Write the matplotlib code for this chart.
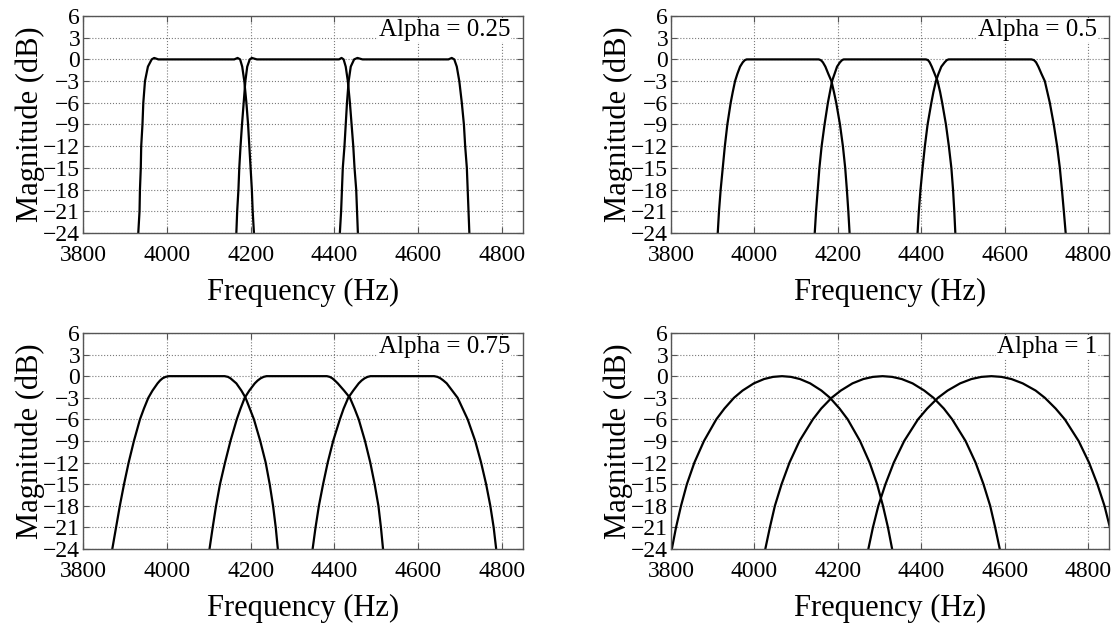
import numpy as np
import matplotlib
matplotlib.use('Agg')
import matplotlib.pyplot as plt

plt.rcParams['font.family'] = ['Liberation Serif', 'DejaVu Serif']

# ---- data (frequency in Hz at given dB levels) ----
x_ticks = [3800, 4000, 4200, 4400, 4600, 4800]
y_ticks = [6, 3, 0, -3, -6, -9, -12, -15, -18, -21, -24]
alphas = ['0.25', '0.5', '0.75', '1']

# alpha = 0.25
db_a025 = [-24, -21, -18, -15, -12, -9, -6, -3, -1, 0, 0.2, 0,
           0, 0.2, 0, -1, -3, -6, -9, -12, -15, -18, -21, -24]
f_a025_1 = [3932, 3935, 3936, 3938, 3939, 3942, 3944, 3948, 3955, 3964, 3970, 3980,
            4161, 4169, 4175, 4180, 4185, 4190, 4194, 4197, 4200, 4203, 4205, 4208]
f_a025_2 = [4166, 4168, 4171, 4173, 4176, 4179.5, 4183.5, 4187.5, 4192, 4198, 4203, 4215,
            4411, 4417, 4422, 4427, 4432, 4437, 4441, 4445, 4448, 4452, 4454, 4456]
f_a025_3 = [4413, 4416, 4418, 4420, 4424, 4427, 4430, 4434, 4439, 4447, 4455, 4467,
            4672, 4680, 4686, 4692, 4698, 4704, 4709, 4712, 4716, 4718, 4720, 4722]

# alpha = 0.5
db_a05 = [-24, -21, -18, -15, -12, -9, -6, -4.5, -3, -2, -1, -0.4, -0.1, 0,
          0, -0.1, -0.4, -1, -2, -3, -4.5, -6, -9, -12, -15, -18, -21, -24]
f_a05_1 = [3912, 3915, 3919, 3924, 3929, 3935, 3943, 3948, 3953.5, 3959, 3965.5, 3972, 3977, 3981.5,
           4154, 4159, 4164, 4170, 4177, 4184.5, 4190.5, 4196, 4205, 4212, 4217.5, 4221.5, 4225, 4228]
f_a05_2 = [4144.5, 4147.7, 4151.7, 4155.7, 4161, 4168, 4176, 4181, 4186, 4192, 4198, 4205, 4210, 4214,
           4411, 4416, 4420, 4425, 4432, 4439, 4445, 4450, 4459, 4466, 4472, 4476, 4479, 4481.5]
f_a05_3 = [4391, 4394, 4398, 4403, 4408.5, 4415, 4424, 4429, 4435, 4441, 4448, 4456, 4461, 4465.5,
           4664, 4670, 4675, 4680.5, 4688, 4696, 4702, 4708, 4717.5, 4725.5, 4732, 4737, 4741.6, 4746]

# alpha = 0.75
db_a075 = [-24, -21, -18, -15, -12, -9, -6, -4.5, -3, -2, -1, -0.6, -0.3, -0.1, 0,
           0, -0.1, -0.3, -0.6, -1, -2, -3, -4.5, -6, -9, -12, -15, -18, -21, -24]
f_a075_1 = [3870, 3879, 3888, 3898, 3909, 3921.6, 3936, 3945.5, 3956, 3966, 3978, 3984, 3990, 3997, 4005,
            4138, 4146, 4152, 4158, 4166, 4178, 4188, 4198, 4208, 4223, 4236, 4245.6, 4253.6, 4260, 4265]
f_a075_2 = [4102, 4109.6, 4117.6, 4127, 4139, 4152, 4167, 4176, 4186, 4197, 4210, 4217, 4224, 4231, 4238,
            4382, 4389, 4395, 4401, 4408, 4423, 4437, 4448, 4458, 4473, 4485.6, 4496, 4505, 4511, 4516]
f_a075_3 = [4348, 4355, 4363, 4373, 4384, 4397, 4413, 4422, 4433, 4445, 4458, 4465, 4472, 4479, 4486,
            4638, 4646, 4653, 4660, 4668, 4681, 4694, 4706, 4718, 4736, 4750, 4762, 4772, 4780, 4786]

# alpha = 1
db_a1 = [-24, -21, -18, -15, -12, -9, -6, -4.5, -3, -2, -1, -0.4, -0.1, 0,
         -0.1, -0.4, -1, -2, -3, -4.5, -6, -9, -12, -15, -18, -21, -24]
f_a1_1 = [3802, 3812, 3824, 3838, 3856, 3879, 3908.5, 3928, 3951, 3971.5, 3998.5, 4023, 4044.5, 4066,
          4087.5, 4109, 4133.5, 4160.5, 4181, 4204, 4223.5, 4253, 4276, 4294, 4308, 4320, 4330]
f_a1_2 = [4026, 4037, 4049, 4065, 4084, 4108, 4140, 4160, 4185, 4207, 4235, 4261, 4284, 4307,
          4330, 4353, 4379, 4407, 4429, 4454, 4474, 4506, 4530, 4549, 4565, 4577, 4588]
f_a1_3 = [4273, 4284, 4297, 4314, 4334, 4359, 4392, 4414, 4440, 4463, 4493, 4520, 4544, 4568,
          4592, 4616, 4643, 4674, 4696, 4722, 4744, 4777, 4802, 4822, 4839, 4852, 4863]

panels = [
    (db_a025, [f_a025_1, f_a025_2, f_a025_3]),
    (db_a05, [f_a05_1, f_a05_2, f_a05_3]),
    (db_a075, [f_a075_1, f_a075_2, f_a075_3]),
    (db_a1, [f_a1_1, f_a1_2, f_a1_3]),
]

rects = [
    [0.0742, 0.6302, 0.3936, 0.3444],
    [0.6002, 0.6302, 0.3918, 0.3444],
    [0.0742, 0.1286, 0.3936, 0.3429],
    [0.6002, 0.1286, 0.3918, 0.3429],
]

fig = plt.figure(figsize=(11.18, 6.30), dpi=100)

for k in range(4):
    ax = fig.add_axes(rects[k])
    db, curves = panels[k]
    for f in curves:
        ax.plot(f, db, color='k', linewidth=1.6)
    ax.set_xlim(3800, 4850)
    ax.set_ylim(-24, 6)
    ax.set_xticks(x_ticks)
    ax.set_yticks(y_ticks)
    ax.grid(True, linestyle=':', color='#7a7a7a', linewidth=0.8)
    ax.tick_params(direction='in', top=True, right=True, length=4, width=0.8,
                   color='#555555', labelsize=17)
    ax.tick_params(axis='x', pad=8.5)
    ax.tick_params(axis='y', pad=2)
    for s in ax.spines.values():
        s.set_color('#555555')
        s.set_linewidth(1.0)
    ax.set_xlabel('Frequency (Hz)', fontsize=22, labelpad=9)
    ax.set_ylabel('Magnitude (dB)', fontsize=22, labelpad=-1)
    ax.text(0.972, 0.936, 'Alpha = ' + alphas[k], transform=ax.transAxes,
            ha='right', va='center', fontsize=18,
            bbox=dict(facecolor='white', edgecolor='none', pad=0.5))

fig.savefig('out.png', dpi=100)
